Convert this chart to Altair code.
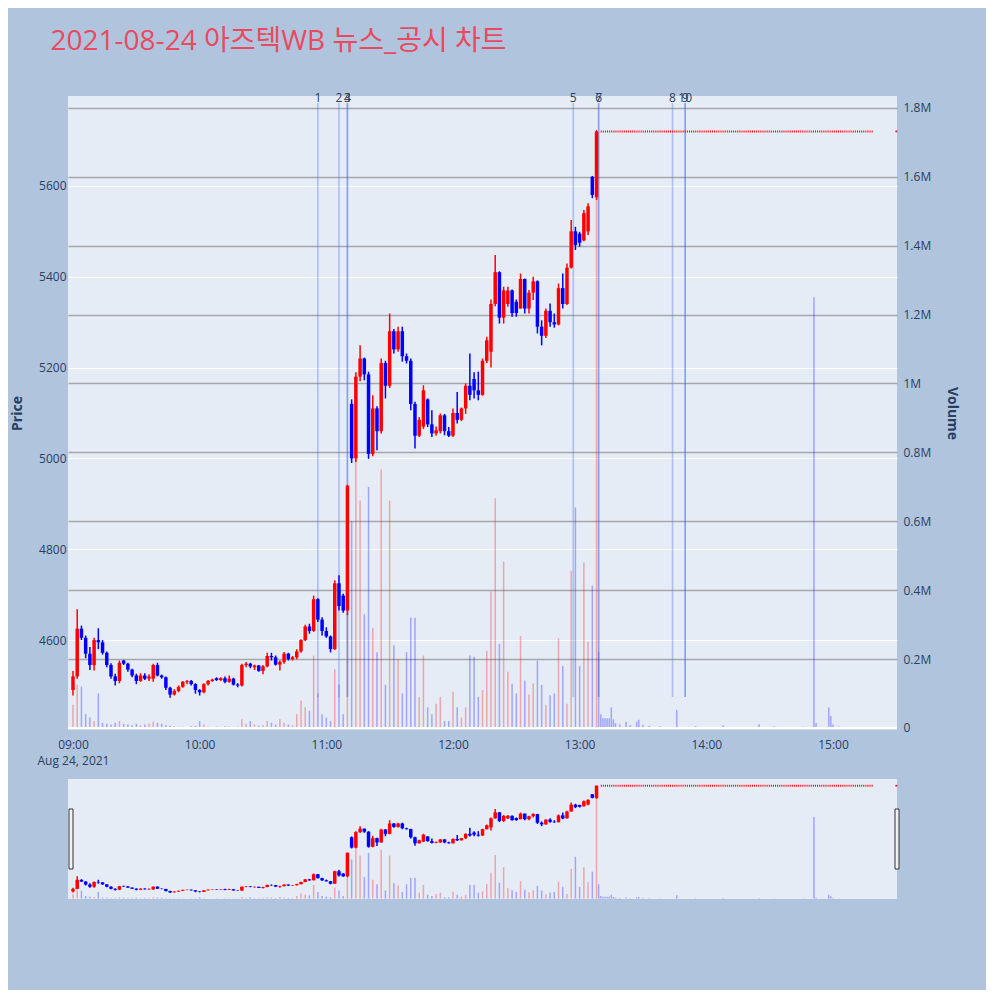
import altair as alt
import pandas as pd

DAY = "2021-08-24"
TITLE = "2021-08-24 아즈텍WB 뉴스_공시 차트"

# ---- 2-minute candles from 09:00 ----
candle_start = "09:00"
opens = [4490, 4520, 4625, 4605, 4570, 4545, 4600, 4595, 4572, 4545,
         4520, 4510, 4555, 4548, 4535, 4522, 4510, 4522, 4515, 4515,
         4545, 4522, 4518, 4495, 4480, 4488, 4497, 4508, 4510, 4503,
         4490, 4485, 4503, 4510, 4516, 4512, 4516, 4508, 4515, 4502,
         4500, 4545, 4548, 4540, 4544, 4532, 4542, 4565, 4562, 4546,
         4552, 4570, 4558, 4562, 4575, 4600, 4630, 4620, 4690, 4645,
         4620, 4608, 4580, 4725, 4698, 4665, 5120, 5000, 5180, 5220,
         5185, 5010, 5110, 5060, 5210, 5160, 5280, 5240, 5280, 5225,
         5215, 5120, 5050, 5070, 5130, 5075, 5055, 5060, 5095, 5060,
         5050, 5100, 5085, 5110, 5160, 5175, 5150, 5140, 5215, 5235,
         5340, 5410, 5310, 5340, 5370, 5345, 5330, 5395, 5330, 5365,
         5390, 5290, 5270, 5325, 5300, 5295, 5375, 5340, 5420, 5500,
         5495, 5480, 5500, 5620, 5575]
highs = [4532, 4668, 4632, 4610, 4585, 4605, 4626, 4600, 4575, 4549,
         4526, 4555, 4556, 4550, 4537, 4526, 4527, 4527, 4525, 4548,
         4550, 4524, 4520, 4497, 4492, 4500, 4510, 4512, 4512, 4505,
         4492, 4505, 4512, 4515, 4518, 4518, 4520, 4522, 4517, 4505,
         4548, 4552, 4550, 4546, 4545, 4545, 4572, 4572, 4566, 4555,
         4574, 4572, 4565, 4580, 4602, 4634, 4636, 4698, 4692, 4650,
         4628, 4610, 4732, 4743, 4702, 4942, 5130, 5190, 5249, 5222,
         5191, 5139, 5115, 5220, 5215, 5319, 5285, 5290, 5290, 5231,
         5220, 5125, 5091, 5161, 5132, 5106, 5070, 5099, 5098, 5069,
         5110, 5146, 5112, 5165, 5231, 5190, 5191, 5220, 5268, 5350,
         5448, 5412, 5378, 5378, 5372, 5350, 5407, 5396, 5371, 5400,
         5392, 5304, 5330, 5341, 5319, 5385, 5407, 5429, 5525, 5510,
         5499, 5547, 5562, 5622, 5723]
lows = [4478, 4515, 4600, 4560, 4534, 4533, 4580, 4568, 4540, 4515,
        4500, 4505, 4545, 4530, 4518, 4503, 4508, 4512, 4510, 4508,
        4520, 4515, 4490, 4473, 4478, 4485, 4495, 4503, 4500, 4482,
        4478, 4483, 4500, 4508, 4510, 4510, 4505, 4506, 4500, 4496,
        4498, 4540, 4538, 4534, 4530, 4525, 4540, 4555, 4544, 4533,
        4548, 4555, 4555, 4558, 4572, 4598, 4614, 4618, 4640, 4610,
        4605, 4573, 4578, 4665, 4660, 4655, 4990, 4992, 5170, 5172,
        4999, 5005, 5018, 5055, 5132, 5155, 5231, 5235, 5213, 5209,
        5106, 5022, 5047, 5065, 5069, 5047, 5050, 5055, 5051, 5047,
        5047, 5077, 5082, 5098, 5128, 5132, 5128, 5138, 5210, 5200,
        5335, 5297, 5297, 5334, 5312, 5312, 5330, 5319, 5319, 5349,
        5275, 5249, 5265, 5290, 5288, 5293, 5330, 5338, 5418, 5459,
        5466, 5478, 5492, 5573, 5569]
closes = [4520, 4625, 4605, 4570, 4545, 4600, 4595, 4572, 4545, 4520,
          4510, 4550, 4548, 4535, 4522, 4510, 4522, 4515, 4520, 4545,
          4522, 4518, 4495, 4480, 4488, 4497, 4508, 4510, 4503, 4490,
          4485, 4503, 4510, 4513, 4512, 4516, 4508, 4515, 4502, 4500,
          4545, 4548, 4542, 4544, 4532, 4542, 4565, 4562, 4546, 4552,
          4570, 4558, 4562, 4575, 4600, 4630, 4620, 4690, 4645, 4620,
          4608, 4580, 4725, 4675, 4665, 4940, 5000, 5180, 5220, 5185,
          5010, 5110, 5060, 5210, 5160, 5280, 5240, 5280, 5225, 5215,
          5120, 5050, 5085, 5150, 5075, 5055, 5062, 5095, 5060, 5050,
          5100, 5085, 5110, 5160, 5140, 5150, 5140, 5215, 5260, 5340,
          5410, 5310, 5370, 5370, 5320, 5320, 5395, 5330, 5365, 5390,
          5290, 5270, 5325, 5300, 5295, 5375, 5340, 5420, 5500, 5470,
          5475, 5540, 5555, 5580, 5720]
volumes_m = [0.067, 0.125, 0.12, 0.04, 0.03, 0.02, 0.10, 0.015, 0.012, 0.01,
             0.015, 0.02, 0.012, 0.01, 0.008, 0.012, 0.008, 0.01, 0.012, 0.018,
             0.015, 0.012, 0.008, 0.006, 0.005, 0.004, 0.004, 0.003, 0.005, 0.006,
             0.02, 0.01, 0.004, 0.003, 0.004, 0.003, 0.005, 0.004, 0.003, 0.004,
             0.025, 0.012, 0.02, 0.01, 0.006, 0.008, 0.02, 0.015, 0.01, 0.025,
             0.015, 0.01, 0.008, 0.04, 0.08, 0.06, 0.05, 0.21, 0.10, 0.04,
             0.03, 0.02, 0.17, 0.125, 0.04, 0.33, 0.6, 0.8, 0.66, 0.33,
             0.70, 0.29, 0.22, 0.75, 0.125, 0.66, 0.24, 0.20, 0.10, 0.22,
             0.32, 0.32, 0.09, 0.21, 0.06, 0.04, 0.07, 0.09, 0.02, 0.02,
             0.105, 0.06, 0.03, 0.06, 0.21, 0.207, 0.09, 0.11, 0.224, 0.396,
             0.667, 0.244, 0.483, 0.163, 0.128, 0.10, 0.267, 0.137, 0.097, 0.13,
             0.195, 0.125, 0.067, 0.095, 0.10, 0.26, 0.18, 0.07, 0.456, 0.64,
             0.18, 0.48, 0.25, 0.413, 1.73]

# ---- after the upper limit: flat trades ----
ah_times = ["13:09", "13:10", "13:11", "13:12", "13:13", "13:14", "13:15", "13:16",
            "13:17", "13:19", "13:22", "13:24", "13:27", "13:28", "13:30", "13:33",
            "13:38", "13:46", "13:55", "14:08", "14:25", "14:32", "14:46", "14:51",
            "14:52", "14:58", "14:59", "15:00", "15:03"]
ah_volumes_m = [0.22, 0.04, 0.028, 0.028, 0.028, 0.028, 0.06, 0.025,
                0.014, 0.01, 0.018, 0.008, 0.018, 0.024, 0.009, 0.006,
                0.005, 0.052, 0.005, 0.008, 0.011, 0.005, 0.004, 1.25,
                0.014, 0.06, 0.035, 0.01, 0.004]
flat_price = 5720
flat_start, flat_end, last_trade = "13:10", "15:19", "15:30"

# ---- news / disclosures ----
news_times = ["10:56", "11:06", "11:10", "11:10", "12:57", "13:09", "13:09", "13:44", "13:50", "13:50"]
news_labels = ["1", "2", "3", "4", "5", "6", "7", "8", "9", "10"]

price_ticks = [4600, 4800, 5000, 5200, 5400, 5600]
volume_ticks_m = [0, 0.2, 0.4, 0.6, 0.8, 1, 1.2, 1.4, 1.6, 1.8]
time_ticks = ["09:00", "10:00", "11:00", "12:00", "13:00", "14:00", "15:00"]

# ------------------------------------------------------------------
TXT = "#2a3f5f"
FONT = "Open Sans"
UP, DOWN = "#FF0000", "#0000FF"
W, H, SH = 829, 634, 120


def ts(hhmm):
    return f"{DAY}T{hhmm}:00"


def dt(hhmm, s=0):
    h, m = hhmm.split(":")
    return alt.DateTime(year=2021, month=8, date=24, hours=int(h), minutes=int(m), seconds=s)


times = pd.date_range(f"{DAY} {candle_start}", periods=len(opens), freq="2min").strftime("%Y-%m-%dT%H:%M:%S")
candles = pd.DataFrame(dict(t=list(times), open=opens, high=highs, low=lows, close=closes))
candles["up"] = candles["close"] >= candles["open"]

vol = pd.concat([
    pd.DataFrame(dict(t=list(times), volume=volumes_m, up=list(candles["up"]))),
    pd.DataFrame(dict(t=[ts(h) for h in ah_times], volume=ah_volumes_m, up=[False] * len(ah_times))),
], ignore_index=True)

flat = pd.DataFrame(dict(t1=[ts(flat_start)], t2=[ts(flat_end)], p=[flat_price]))
last = pd.DataFrame(dict(t=[ts(last_trade)], p=[flat_price]))
news = pd.DataFrame(dict(t=[ts(h) for h in news_times], label=news_labels))
zero = pd.DataFrame(dict(v=[0]))
dummy = pd.DataFrame(dict(d=[0]))

x_scale = alt.Scale(domain=[dt("08:57", 38), dt("15:30", 20)], padding=0, nice=False)
price_scale = alt.Scale(domain=[4402, 5798], zero=False, nice=False, padding=0)
vol_scale = alt.Scale(domain=[-0.006, 1.8345], nice=False, zero=False, padding=0)

x_axis = alt.Axis(values=[dt(h) for h in time_ticks],
                  labelExpr="hours(datum.value) == 9 ? ['09:00', 'Aug 24, 2021'] : timeFormat(datum.value, '%H:%M')",
                  title=None, grid=False, ticks=False, domain=False, labelPadding=9,
                  labelFontSize=12, labelColor=TXT, labelFont=FONT, labelOverlap=False,
                  labelFlush=False, labelLineHeight=16)

price_axis_kw = dict(orient="left", values=price_ticks, format="d", title="Price", ticks=False,
                     domain=False, labelPadding=2, labelFontSize=12, labelFont=FONT, labelColor=TXT,
                     titleFontSize=14, titleFont=FONT, titleColor=TXT, titleFontWeight="bold",
                     titlePadding=14, labelOverlap=False)
price_axis = alt.Axis(grid=True, gridColor="white", gridWidth=1, **price_axis_kw)
price_axis_hidden = alt.Axis(grid=False, labelOpacity=0, titleOpacity=0, **price_axis_kw)

vol_axis = alt.Axis(orient="right", values=volume_ticks_m,
                    labelExpr="datum.value == 0 ? '0' : datum.value + 'M'",
                    title="Volume", grid=True, gridColor="#A6A6A6", gridWidth=1.6, ticks=False,
                    domain=False, labelPadding=6, labelFontSize=12, labelFont=FONT, labelColor=TXT,
                    titleFontSize=14, titleFont=FONT, titleColor=TXT, titleFontWeight="bold",
                    titlePadding=14, labelOverlap=False)

color_cond = alt.condition("datum.up", alt.value(UP), alt.value(DOWN))


def build(height, main):
    xa = x_axis if main else None
    pa = price_axis if main else price_axis_hidden
    va = vol_axis if main else None
    X = lambda f="t": alt.X(f"{f}:T", scale=x_scale, axis=xa)

    vol_layers = [
        alt.Chart(vol).mark_bar(size=1.5, opacity=0.3).encode(
            x=X(), y=alt.Y("volume:Q", scale=vol_scale, axis=va), color=color_cond),
    ]
    if main:
        vol_layers.append(
            alt.Chart(zero).mark_rule(color="white", strokeWidth=2).encode(
                x=alt.value(0), x2=alt.value(W), y=alt.Y("v:Q", scale=vol_scale, axis=va)))
    vol_group = alt.layer(*vol_layers)

    price_layers = []
    if main:
        price_layers.append(
            alt.Chart(news).mark_rule(color="#4169E1", opacity=0.35, strokeWidth=1.6).encode(
                x=X(), y=alt.value(7), y2=alt.value(601)))
    price_layers += [
        alt.Chart(candles).mark_rule(strokeWidth=1.5).encode(
            x=X(), y=alt.Y("low:Q", scale=price_scale, axis=pa), y2="high:Q", color=color_cond),
        alt.Chart(candles).mark_bar(size=3.5).encode(
            x=X(), y=alt.Y("open:Q", scale=price_scale, axis=pa), y2="close:Q", color=color_cond),
        alt.Chart(flat).mark_rule(color=UP, strokeWidth=2, strokeDash=[1, 1.1]).encode(
            x=X("t1"), x2="t2:T", y=alt.Y("p:Q", scale=price_scale, axis=pa)),
        alt.Chart(last).mark_square(color=UP, size=3, opacity=1).encode(
            x=X(), y=alt.Y("p:Q", scale=price_scale, axis=pa)),
    ]
    if main:
        price_layers.append(
            alt.Chart(news).mark_text(fontSize=12, font=FONT, color=TXT, baseline="middle").encode(
                x=X(), y=alt.value(2), text="label:N"))
    else:
        for a, b in ((1, 5), (827, 831)):
            price_layers.append(
                alt.Chart(dummy).mark_rect(fill="#F2F2F2", stroke="#333333", strokeWidth=1).encode(
                    x=alt.value(a), x2=alt.value(b), y=alt.value(30), y2=alt.value(90)))
    price_group = alt.layer(*price_layers)

    return alt.layer(vol_group, price_group).resolve_scale(y="independent").properties(width=W, height=height)


main = build(H, True)
slider = build(SH, False)

chart = alt.vconcat(main, slider, spacing=13).resolve_scale(x="independent", y="independent").properties(
    title=alt.TitleParams(TITLE, anchor="start", fontSize=28, font=f"{FONT}, Noto Sans CJK KR",
                          fontWeight="normal", color="#E84A5F", dx=40, offset=36),
    padding={"left": 2, "top": 20, "right": 27, "bottom": 91},
    background="#B0C4DE",
).configure_view(fill="#E5ECF6", stroke=None)

chart.save("out.html", embed_options={"renderer": "svg", "actions": False})
